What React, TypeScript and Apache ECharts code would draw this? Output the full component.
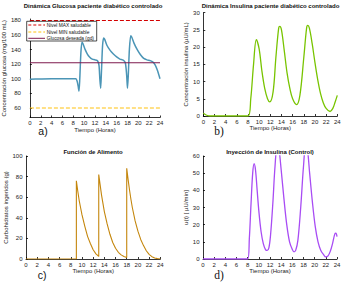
import React, { useEffect, useRef } from "react";
import * as echarts from "echarts";

// ---------- data ----------
const glucose: [number, number][] = [
  [0, 99.5], [2, 99.8], [4, 100], [6, 100], [8, 100], [8.5, 100], [8.7, 97], [8.9, 90], [9.05, 83],
  [9.2, 100], [9.4, 135], [9.6, 150], [9.8, 148], [10.2, 140], [10.6, 134], [11, 130], [11.5, 127],
  [12, 126], [12.5, 124.5], [12.75, 118], [12.9, 100], [13.05, 87], [13.2, 110], [13.4, 145], [13.6, 156],
  [13.8, 154], [14.2, 146], [14.8, 139], [15.4, 134], [16, 130], [16.6, 127], [17.2, 125.5], [17.6, 122],
  [17.85, 105], [18.0, 87], [18.15, 105], [18.35, 140], [18.6, 159], [18.8, 157], [19.2, 149], [19.8, 140],
  [20.4, 133], [21, 128], [21.6, 126], [22.2, 125], [22.7, 123], [23.1, 119], [23.5, 112], [24, 100],
];
const glucoseMax = 180;
const glucoseMin = 60;
const glucoseTarget = 122;
const glucoseTicks = [60, 80, 100, 120, 140, 160, 180];

const insulin: [number, number][] = [
  [0, 0.8], [0.5, 0.3], [1, 0.05], [1.5, 0], [4, 0], [8, 0], [8.5, 5], [9, 15], [9.5, 22.2], [10, 19.5],
  [10.5, 13], [11, 8], [11.5, 5], [11.9, 4.1], [12.5, 7], [13, 17], [13.5, 25.5], [13.7, 26], [14, 25],
  [14.5, 19], [15, 12.5], [15.5, 8], [16, 5], [16.7, 3.3], [17.3, 6], [18, 17], [18.5, 25.5], [18.7, 26.3],
  [19, 25.5], [19.5, 21], [20, 15.5], [20.5, 10.5], [21, 6.5], [21.5, 3.8], [22, 2.2], [22.7, 1.3],
  [23.2, 2.2], [23.6, 4], [24, 6],
];

const food: [number, number][] = [
  [0, 0], [9, 0], [9, 76], [9.25, 66], [9.5, 57], [9.75, 50], [10, 43], [10.5, 32], [11, 22], [11.5, 15],
  [12, 9], [12.5, 5], [13, 2.5], [13, 82], [13.25, 72], [13.5, 62], [13.75, 54], [14, 46], [14.5, 34],
  [15, 24], [15.5, 16], [16, 10.5], [16.5, 6.5], [17, 4], [17.5, 2.5], [18, 1.5], [18, 88], [18.25, 77],
  [18.5, 67], [18.75, 58], [19, 50], [19.5, 37], [20, 27], [20.5, 19], [21, 13], [21.5, 8], [22, 4.5],
  [22.5, 2.3], [23, 1], [23.5, 0.4], [24, 0],
];

const injection: [number, number][] = [
  [0, 0], [8, 0], [8.3, 12], [8.6, 32], [8.9, 50], [9.15, 55.5], [9.4, 52], [9.7, 40], [10, 28],
  [10.4, 16], [10.8, 9], [11.2, 5.5], [11.5, 5], [11.8, 6.5], [12.1, 14], [12.5, 32], [12.9, 54],
  [13.3, 66], [13.6, 64], [14, 52], [14.5, 35], [15, 20], [15.5, 10], [16, 5.5], [16.3, 4.2], [16.6, 5],
  [17, 11], [17.5, 30], [18, 54], [18.4, 66], [18.7, 64], [19.1, 50], [19.6, 33], [20.1, 19], [20.6, 10],
  [21.1, 5], [21.6, 2.5], [22, 1.2], [22.4, 1.8], [22.8, 4.5], [23.2, 9], [23.6, 14.5], [23.8, 15], [24, 13],
];

const titles = [
  "Dinámica Glucosa paciente diabético controlado",
  "Dinámica Insulina paciente diabético controlado",
  "Función de Alimento",
  "Inyección de Insulina (Control)",
];
const yNames = [
  "Concentración glucosa (mg/100 mL)",
  "Concentración insulina (µU/mL)",
  "Carbohidratos ingeridos (g)",
  "u(t) [ µU/min]",
];
const xName = "Tiempo (Horas)";
const legendNames = ["Nivel MAX saludable", "Nivel MIN saludable", "Glucosa deseada (gd)"];

const FONT = "Liberation Sans, Arial, sans-serif";
const TXT = "#222";

export default function App() {
  const ref = useRef<HTMLDivElement>(null);
  useEffect(() => {
    const chart = echarts.init(ref.current!, null, { renderer: "svg" });

    const xAx = (gridIndex: number) => ({
      type: "value",
      gridIndex,
      min: 0,
      max: 24,
      interval: 2,
      axisLine: { show: true, lineStyle: { color: "#000", width: 0.8 } },
      axisTick: { show: true, inside: true, length: 2, lineStyle: { color: "#000", width: 0.8 } },
      axisLabel: { fontSize: 6, color: TXT, margin: 2.5, fontFamily: FONT },
      splitLine: { show: false },
      name: xName,
      nameLocation: "middle",
      nameGap: 9,
      nameTextStyle: { fontSize: 6, color: TXT, fontFamily: FONT },
    });
    const yAx = (gridIndex: number, min: number, max: number, interval: number | undefined, margin: number, nameGap: number, extra: any = {}) => ({
      type: "value",
      gridIndex,
      min,
      max,
      interval,
      axisLine: { show: true, lineStyle: { color: "#000", width: 0.8 } },
      axisTick: { show: true, inside: true, length: 2, lineStyle: { color: "#000", width: 0.8 }, ...(extra.tick || {}) },
      axisLabel: { fontSize: 6, color: TXT, margin, fontFamily: FONT, ...(extra.label || {}) },
      splitLine: { show: false },
      name: yNames[gridIndex],
      nameLocation: "middle",
      nameRotate: 90,
      nameGap,
      nameTextStyle: { fontSize: 6, color: TXT, fontFamily: FONT },
    });

    const hline = (v: number) => [[0, v], [24, v]];

    const option: any = {
      animation: false,
      backgroundColor: "#fff",
      grid: [
        { left: 26, top: 19, width: 134, height: 98.5 },
        { left: 203.3, top: 12.7, width: 134, height: 103.3 },
        { left: 26, top: 156, width: 134.3, height: 103 },
        { left: 203, top: 156, width: 134, height: 103 },
      ],
      xAxis: [xAx(0), xAx(1), xAx(2), xAx(3)],
      yAxis: [
        yAx(0, 47, 182, undefined, 9, 15.5, {
          tick: { customValues: glucoseTicks },
          label: { customValues: glucoseTicks },
        }),
        yAx(1, 0, 30, 5, 3.5, 12.5),
        yAx(2, 0, 100, 20, 3.5, 15.5),
        yAx(3, 0, 60, 10, 3.5, 11.5),
      ],
      series: [
        {
          type: "line", xAxisIndex: 0, yAxisIndex: 0, data: glucose, showSymbol: false, smooth: 0.25,
          lineStyle: { color: "#4b95b6", width: 1.5 },
        },
        {
          type: "line", xAxisIndex: 0, yAxisIndex: 0, data: hline(glucoseMax), showSymbol: false,
          lineStyle: { color: "#d40000", width: 1.1, type: [4, 2] },
        },
        {
          type: "line", xAxisIndex: 0, yAxisIndex: 0, data: hline(glucoseMin), showSymbol: false,
          lineStyle: { color: "#ffc20e", width: 1.1, type: [4, 2] },
        },
        {
          type: "line", xAxisIndex: 0, yAxisIndex: 0, data: hline(glucoseTarget), showSymbol: false,
          lineStyle: { color: "#7e1a4e", width: 1.1 },
        },
        {
          type: "line", xAxisIndex: 1, yAxisIndex: 1, data: insulin, showSymbol: false, smooth: 0.35,
          lineStyle: { color: "#78c400", width: 1.3 },
        },
        {
          type: "line", xAxisIndex: 2, yAxisIndex: 2, data: food, showSymbol: false,
          lineStyle: { color: "#c4860c", width: 1.1 },
        },
        {
          type: "line", xAxisIndex: 3, yAxisIndex: 3, data: injection, showSymbol: false, smooth: 0.35,
          lineStyle: { color: "#a84cf4", width: 1.3 },
        },
      ],
      graphic: [
        { type: "text", x: 93, y: 6, style: { text: titles[0], font: `bold 6px ${FONT}`, fill: "#111", align: "center", verticalAlign: "middle" } },
        { type: "text", x: 270.5, y: 6, style: { text: titles[1], font: `bold 6px ${FONT}`, fill: "#111", align: "center", verticalAlign: "middle" } },
        { type: "text", x: 93, y: 151.7, style: { text: titles[2], font: `bold 6px ${FONT}`, fill: "#111", align: "center", verticalAlign: "middle" } },
        { type: "text", x: 270, y: 151.7, style: { text: titles[3], font: `bold 6px ${FONT}`, fill: "#111", align: "center", verticalAlign: "middle" } },
        { type: "text", x: 43, y: 130.5, style: { text: "a)", font: `10.5px ${FONT}`, fill: "#111", align: "center", verticalAlign: "middle" } },
        { type: "text", x: 219, y: 131, style: { text: "b)", font: `11.5px Liberation Serif, serif`, fill: "#111", align: "center", verticalAlign: "middle" } },
        { type: "text", x: 42, y: 274.5, style: { text: "c)", font: `10.5px ${FONT}`, fill: "#111", align: "center", verticalAlign: "middle" } },
        { type: "text", x: 219, y: 274.5, style: { text: "d)", font: `11.5px Liberation Serif, serif`, fill: "#111", align: "center", verticalAlign: "middle" } },
        // legend of panel a
        { type: "rect", shape: { x: 26.7, y: 21.3, width: 70, height: 19.7 }, style: { fill: "#fff", stroke: "#000", lineWidth: 0.7 }, z: 50 },
        { type: "line", shape: { x1: 28.3, y1: 25, x2: 45, y2: 25 }, style: { stroke: "#d40000", lineWidth: 1, lineDash: [3, 2] }, z: 51 },
        { type: "line", shape: { x1: 28.3, y1: 32, x2: 45, y2: 32 }, style: { stroke: "#ffc20e", lineWidth: 1, lineDash: [3, 2] }, z: 51 },
        { type: "line", shape: { x1: 28.3, y1: 38.3, x2: 45, y2: 38.3 }, style: { stroke: "#7e1a4e", lineWidth: 1 }, z: 51 },
        { type: "text", x: 46.7, y: 25, style: { text: legendNames[0], font: `4.8px ${FONT}`, fill: "#111", verticalAlign: "middle" }, z: 51 },
        { type: "text", x: 46.7, y: 32, style: { text: legendNames[1], font: `4.8px ${FONT}`, fill: "#111", verticalAlign: "middle" }, z: 51 },
        { type: "text", x: 46.7, y: 38.3, style: { text: legendNames[2], font: `4.8px ${FONT}`, fill: "#111", verticalAlign: "middle" }, z: 51 },
      ],
    };
    chart.setOption(option);
    return () => chart.dispose();
  }, []);
  return (
    <div
      ref={ref}
      style={{ position: "absolute", left: 0, top: 0, width: 348, height: 282, background: "#fff" }}
    />
  );
}
